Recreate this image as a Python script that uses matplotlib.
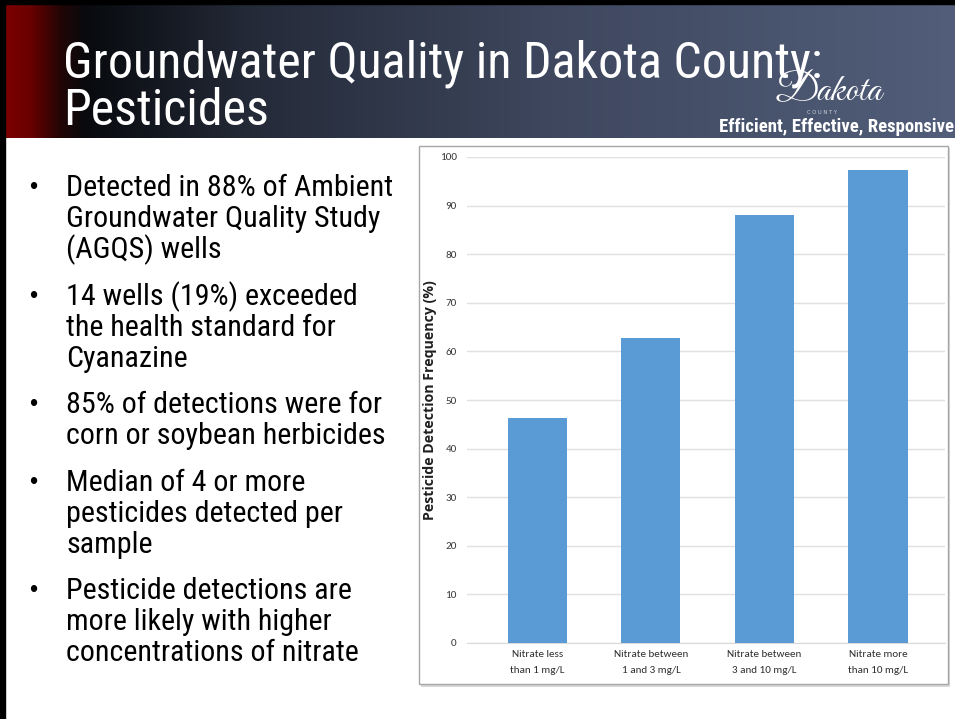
import numpy as np
import matplotlib
matplotlib.use("Agg")
import matplotlib.pyplot as plt
from matplotlib.patches import Rectangle

# ---------------- data ----------------
categories = ["Nitrate less\nthan 1 mg/L", "Nitrate between\n1 and 3 mg/L",
              "Nitrate between\n3 and 10 mg/L", "Nitrate more\nthan 10 mg/L"]
detection_freq = [46.2, 62.7, 88.1, 97.4]
y_ticks = [0, 10, 20, 30, 40, 50, 60, 70, 80, 90, 100]
y_label = "Pesticide Detection Frequency (%)"
title_lines = ["Groundwater Quality in Dakota County:", "Pesticides"]
bullets = [
    ["Detected in 88% of Ambient", "Groundwater Quality Study", "(AGQS) wells"],
    ["14 wells (19%) exceeded", "the health standard for", "Cyanazine"],
    ["85% of detections were for", "corn or soybean herbicides"],
    ["Median of 4 or more", "pesticides detected per", "sample"],
    ["Pesticide detections are", "more likely with higher", "concentrations of nitrate"],
]
tagline = "Efficient, Effective, Responsive"

W, H = 955, 719
fig = plt.figure(figsize=(W / 100, H / 100), dpi=100)
fig.patch.set_facecolor("white")

NARROW = ["Roboto Condensed", "Archivo Narrow", "DejaVu Sans"]
CAL = ["Carlito", "DejaVu Sans"]


def px_axes(x0, y0, x1, y1, **kw):
    return fig.add_axes([x0 / W, 1 - y1 / H, (x1 - x0) / W, (y1 - y0) / H], **kw)


# background overlay axes (pixel coordinates)
bg = px_axes(0, 0, W, H)
bg.set_xlim(0, W)
bg.set_ylim(H, 0)
bg.axis("off")

# header gradient
stops_x = [0, 30, 60, 85, 250, 550, 955]
stops_c = np.array([
    [0x80, 0x00, 0x00],
    [0x6a, 0x00, 0x00],
    [0x22, 0x05, 0x05],
    [0x08, 0x0a, 0x0e],
    [0x24, 0x2a, 0x38],
    [0x3e, 0x47, 0x5e],
    [0x52, 0x5e, 0x7a],
]) / 255.0
xs = np.arange(W)
grad = np.stack([np.interp(xs, stops_x, stops_c[:, k]) for k in range(3)], axis=-1)[None, :, :]
bg.imshow(grad, extent=[0, W, 138, 3], aspect="auto", zorder=1)
bg.add_patch(Rectangle((0, 0), W, 4, color="black", zorder=2))
bg.add_patch(Rectangle((0, 0), 5, H, color="black", zorder=2))

# title
bg.text(63, 77, title_lines[0], color="white", fontsize=36, family=NARROW,
        va="baseline", ha="left", zorder=3)
bg.text(63, 125, title_lines[1], color="white", fontsize=36, family=NARROW,
        va="baseline", ha="left", zorder=3)

# logo
bg.text(828, 99, "Dakota", color="white", fontsize=29, family=["Great Vibes", "DejaVu Serif"],
        ha="center", va="baseline", zorder=4)
bg.text(822, 114, "C O U N T Y", color="#d0d4dc", fontsize=3.8, family="DejaVu Sans",
        ha="center", va="baseline", zorder=4)
bg.text(954, 132, tagline, color="white", fontsize=13.5, family=NARROW,
        weight="bold", ha="right", va="baseline", zorder=4)

# bullets
line_h = 30.8
starts = [188, 297, 405, 483, 591]
for start, lines in zip(starts, bullets):
    bg.text(33, start, "\u2022", fontsize=17, ha="center", va="center",
            color="black", family="Liberation Sans", zorder=3)
    for i, ln in enumerate(lines):
        bg.text(66, start + i * line_h, ln, fontsize=21.6, family=NARROW,
                ha="left", va="center", color="black", zorder=3)

# chart box with shadow
bg.add_patch(Rectangle((421, 148), 529, 539, facecolor="#d8d8d8", edgecolor="none", zorder=2))
bg.add_patch(Rectangle((419, 146), 529, 538, facecolor="white", edgecolor="#a6a6a6",
                       lw=1.0, zorder=3))

# chart axes
ax = px_axes(467, 157, 945, 643)
ax.set_zorder(5)
ax.patch.set_alpha(0)
x = np.arange(len(categories))
ax.bar(x, detection_freq, width=0.52, color="#5b9bd5", zorder=3)
ax.set_ylim(0, 100)
ax.set_xlim(-0.62, 3.59)
ax.set_yticks(y_ticks)
ax.set_yticklabels([str(v) for v in y_ticks], fontsize=8, color="#3a3a3a", family=CAL)
ax.set_xticks(x)
ax.set_xticklabels(categories, fontsize=8, color="#303030", family=CAL,
                   linespacing=2.0)
ax.tick_params(axis="both", length=0)
ax.tick_params(axis="y", pad=7.5)
ax.tick_params(axis="x", pad=5)
ax.grid(axis="y", color="#e0e0e0", lw=1.0, zorder=0)
for s in ["top", "right", "left"]:
    ax.spines[s].set_visible(False)
ax.spines["bottom"].set_color("#d9d9d9")
ax.set_ylabel(y_label, fontsize=10.2, weight="bold", color="#202020",
              family=["Open Sans", "DejaVu Sans"])
ax.yaxis.set_label_coords(-0.062, 0.5)

fig.savefig("out.png", dpi=100, facecolor="white")
